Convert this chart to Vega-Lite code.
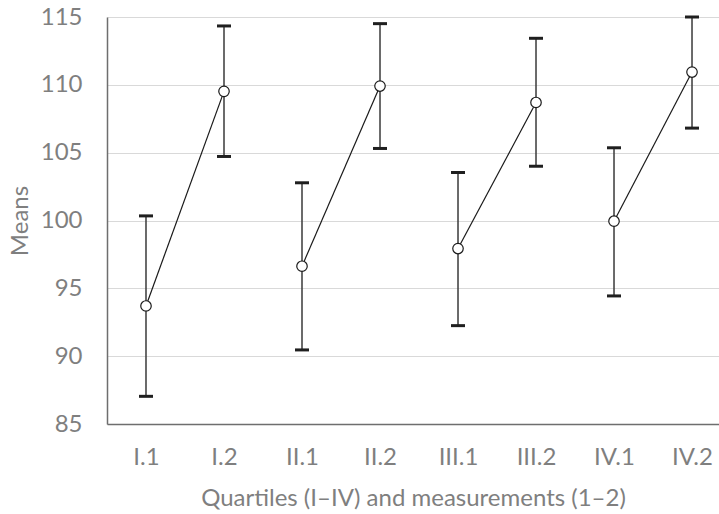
{
  "$schema": "https://vega.github.io/schema/vega-lite/v6.json",
  "autosize": "none",
  "width": 612,
  "height": 407,
  "padding": {"left": 107, "top": 17, "right": 0, "bottom": 90},
  "background": "white",
  "config": {
    "view": {"stroke": null},
    "font": "Lato",
    "axis": {"labelFont": "Lato", "titleFont": "Lato", "labelColor": "#7f7f7f", "titleColor": "#7f7f7f", "labelFontSize": 24, "titleFontSize": 24, "titleFontWeight": "normal", "ticks": false, "domainColor": "#6e6e6e", "domainWidth": 1.5}
  },
  "data": {"values": [
    {"cond": "I.1", "group": "I", "mean": 93.7, "lo": 87.04, "hi": 100.34},
    {"cond": "I.2", "group": "I", "mean": 109.52, "lo": 104.72, "hi": 114.34},
    {"cond": "II.1", "group": "II", "mean": 96.63, "lo": 90.46, "hi": 102.78},
    {"cond": "II.2", "group": "II", "mean": 109.91, "lo": 105.31, "hi": 114.51},
    {"cond": "III.1", "group": "III", "mean": 97.93, "lo": 92.25, "hi": 103.54},
    {"cond": "III.2", "group": "III", "mean": 108.7, "lo": 104.0, "hi": 113.43},
    {"cond": "IV.1", "group": "IV", "mean": 99.95, "lo": 94.44, "hi": 105.36},
    {"cond": "IV.2", "group": "IV", "mean": 110.94, "lo": 106.81, "hi": 115.0}
  ]},
  "encoding": {
    "x": {"field": "cond", "type": "ordinal", "sort": null,
      "scale": {"type": "point", "padding": 0.423, "align": 0.591},
      "axis": {"title": "Quartiles (I–IV) and measurements (1–2)", "labelAngle": 0, "labelPadding": 21, "titlePadding": 17, "grid": false}}
  },
  "layer": [
    {
      "mark": {"type": "rule", "color": "#3a3a3a", "strokeWidth": 1.5},
      "encoding": {
        "y": {"field": "lo", "type": "quantitative", "scale": {"domain": [85, 115], "nice": false, "zero": false},
          "axis": {"title": "Means", "values": [85, 90, 95, 100, 105, 110, 115], "labelPadding": 25, "titlePadding": 8, "grid": true, "gridColor": "#d9d9d9", "gridWidth": 1.2}},
        "y2": {"field": "hi"}
      }
    },
    {
      "mark": {"type": "tick", "color": "#1f1f1f", "size": 14, "thickness": 3, "opacity": 1},
      "encoding": {"y": {"field": "lo", "type": "quantitative"}}
    },
    {
      "mark": {"type": "tick", "color": "#1f1f1f", "size": 14, "thickness": 3, "opacity": 1},
      "encoding": {"y": {"field": "hi", "type": "quantitative"}}
    },
    {
      "mark": {"type": "line", "color": "#1a1a1a", "strokeWidth": 1.2},
      "encoding": {
        "y": {"field": "mean", "type": "quantitative"},
        "detail": {"field": "group"}
      }
    },
    {
      "mark": {"type": "point", "shape": "circle", "size": 110, "filled": false, "fill": "white", "fillOpacity": 1, "stroke": "#1a1a1a", "strokeWidth": 1.2, "opacity": 1},
      "encoding": {"y": {"field": "mean", "type": "quantitative"}}
    }
  ]
}
